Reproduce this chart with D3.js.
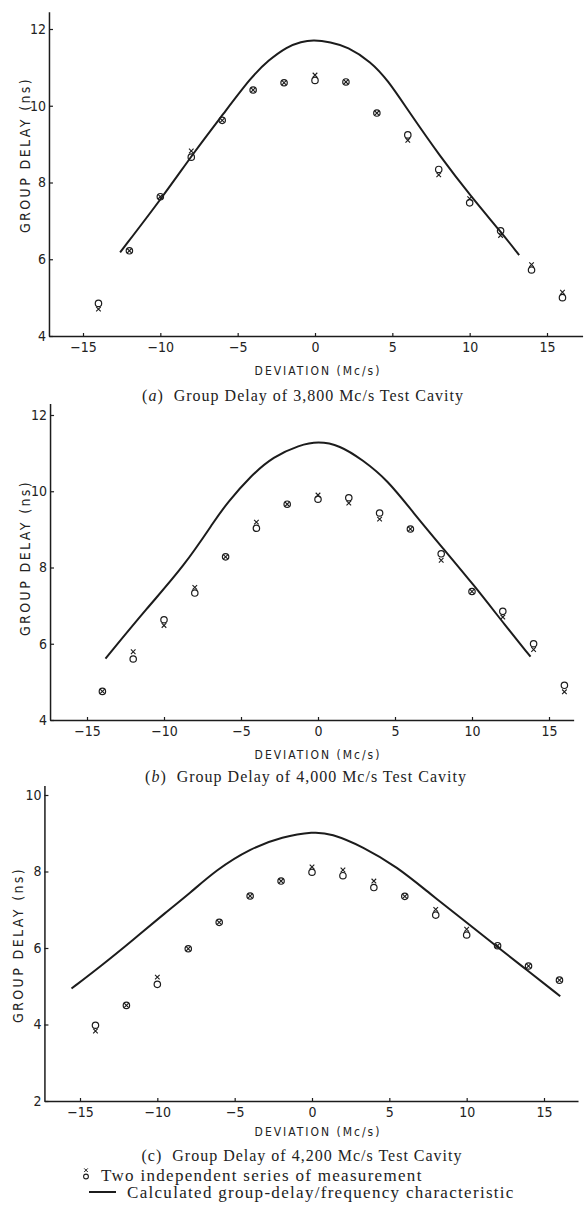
<!DOCTYPE html>
<html>
<head>
<meta charset="utf-8">
<script src="https://cdn.jsdelivr.net/npm/d3@7"></script>
<style>
  body { margin: 0; background: #fff; }
  svg { display: block; }
  .tick text { font-family: "Liberation Sans Narrow", "DejaVu Sans Condensed", sans-serif; font-size: 14px; fill: #222; }
  .axis-title { font-family: "DejaVu Sans Condensed", "DejaVu Sans", sans-serif; font-size: 12px; fill: #222; letter-spacing: 2px; }
  .caption { font-family: "Liberation Serif", serif; font-size: 16px; fill: #222; letter-spacing: 1px; }
  .legend { font-family: "Liberation Serif", serif; font-size: 17px; fill: #222; letter-spacing: 1.3px; }
</style>
</head>
<body>
<svg width="585" height="1213"></svg>
<script>
// measured deviations (Mc/s), same for all three cavities
const deviation = [-14, -12, -10, -8, -6, -4, -2, 0, 2, 4, 6, 8, 10, 12, 14, 16];
const xTicks = [-15, -10, -5, 0, 5, 10, 15];

// (a) 3,800 Mc/s
const crossA  = [4.70, 6.22, 7.63, 8.82, 9.62, 10.41, 10.60, 10.80, 10.62, 9.81, 9.10, 8.20, 7.58, 6.62, 5.86, 5.14];
const circleA = [4.85, 6.22, 7.63, 8.66, 9.62, 10.41, 10.60, 10.66, 10.62, 9.81, 9.24, 8.34, 7.47, 6.74, 5.72, 5.00];
const curveDevA   = [-12.6, -9.8, -7.8, -5.9, -4.1, -3.0, -1.8, -0.9, -0.1, 1.0, 2.1, 3.6, 4.7, 6.0, 8.1, 10.1, 12.0, 13.2];
const curveDelayA = [6.18, 7.65, 8.80, 9.80, 10.76, 11.19, 11.54, 11.67, 11.72, 11.66, 11.54, 11.15, 10.67, 9.89, 8.67, 7.63, 6.72, 6.11];
const yTicksA = [4, 6, 8, 10, 12];

// (b) 4,000 Mc/s
const crossB  = [4.75, 5.79, 6.48, 7.48, 8.28, 9.19, 9.66, 9.90, 9.69, 9.27, 9.01, 8.19, 7.37, 6.70, 5.85, 4.74];
const circleB = [4.75, 5.60, 6.63, 7.33, 8.28, 9.03, 9.66, 9.79, 9.83, 9.43, 9.01, 8.36, 7.37, 6.85, 6.00, 4.91];
const curveDevB   = [-13.8, -11.1, -8.7, -6.6, -5.9, -4.4, -2.9, -1.2, 0.0, 1.4, 2.9, 4.5, 6.2, 8.1, 10.1, 12.2, 13.8];
const curveDelayB = [5.61, 6.94, 8.03, 9.30, 9.69, 10.39, 10.91, 11.21, 11.31, 11.21, 10.82, 10.30, 9.43, 8.51, 7.55, 6.46, 5.66];
const yTicksB = [4, 6, 8, 10, 12];

// (c) 4,200 Mc/s
const crossC  = [3.83, 4.50, 5.24, 5.98, 6.67, 7.36, 7.75, 8.12, 8.04, 7.75, 7.35, 7.01, 6.49, 6.06, 5.53, 5.16];
const circleC = [3.98, 4.50, 5.05, 5.98, 6.67, 7.36, 7.75, 7.98, 7.89, 7.58, 7.35, 6.86, 6.34, 6.06, 5.53, 5.16];
const curveDevC   = [-15.55, -13.7, -11.6, -9.4, -7.9, -6.2, -4.0, -1.9, 0.1, 1.2, 3.3, 5.5, 7.6, 9.8, 11.7, 13.9, 16.05];
const curveDelayC = [4.94, 5.51, 6.20, 6.95, 7.43, 8.04, 8.60, 8.91, 9.04, 9.00, 8.65, 8.12, 7.43, 6.73, 6.12, 5.42, 4.74];
const yTicksC = [2, 4, 6, 8, 10];

const captions = [
  ["(", "a", ")  Group Delay of 3,800 Mc/s Test Cavity"],
  ["(", "b", ")  Group Delay of 4,000 Mc/s Test Cavity"],
  ["(", "c", ")  Group Delay of 4,200 Mc/s Test Cavity"]
];
const legendLabels = ["Two independent series of measurement", "Calculated group-delay/frequency characteristic"];

const svg = d3.select('svg');
const ink = '#1c1c1c';

const crossPath = 'M-2.3,-2.3L2.3,2.3M-2.3,2.3L2.3,-2.3';

function drawPanel(p) {
  // scales fixed by reading tick positions off the scan
  const x = d3.scaleLinear().domain([-15, 15]).range(p.xr);
  x.range([x(p.xext[0]), x(p.xext[1])]).domain(p.xext);
  const y = d3.scaleLinear().domain([p.yTicks[0], p.yTicks[p.yTicks.length - 1]]).range(p.yr);
  y.range([y(p.yTicks[0]), y(p.ytop)]).domain([p.yTicks[0], p.ytop]);

  const g = svg.append('g');

  g.append('g')
    .attr('transform', `translate(0,${y(p.yTicks[0])})`)
    .call(d3.axisBottom(x).tickValues(xTicks).tickSize(-3).tickSizeOuter(0).tickPadding(6).tickFormat(d3.format('d')));
  g.append('g')
    .attr('transform', `translate(${x(p.xext[0])},0)`)
    .call(d3.axisLeft(y).tickValues(p.yTicks).tickSize(-4).tickSizeOuter(0).tickPadding(3));
  g.selectAll('.domain').attr('stroke', ink).attr('stroke-width', 1.5);
  g.selectAll('.tick line').attr('stroke', ink).attr('stroke-width', 1.2);

  g.append('text')
    .attr('class', 'axis-title')
    .attr('x', p.xtitle[0]).attr('y', p.xtitle[1])
    .attr('text-anchor', 'middle').attr('dy', '0.35em')
    .text('DEVIATION (Mc/s)');

  g.append('text')
    .attr('class', 'axis-title')
    .attr('transform', `translate(${p.ytitle[0]},${p.ytitle[1]}) rotate(-90)`)
    .attr('text-anchor', 'middle').attr('dy', '0.35em')
    .style('font-size', '14px').style('letter-spacing', '2.4px')
    .text('GROUP DELAY (ns)');

  const cap = g.append('text')
    .attr('class', 'caption')
    .attr('x', p.caption[0]).attr('y', p.caption[1])
    .attr('text-anchor', 'middle').attr('dy', '0.35em')
    .attr('xml:space', 'preserve');
  const parts = captions[p.idx];
  cap.append('tspan').text(parts[0]);
  cap.append('tspan').style('font-style', p.idx < 2 ? 'italic' : 'normal').text(parts[1]);
  cap.append('tspan').text(parts[2]);

  const line = d3.line()
    .x(d => x(d[0]))
    .y(d => y(d[1]))
    .curve(d3.curveBasis);
  g.append('path')
    .datum(d3.zip(p.curveDev, p.curveDelay))
    .attr('fill', 'none')
    .attr('stroke', ink)
    .attr('stroke-width', 2)
    .attr('d', line);

  g.selectAll('circle.meas')
    .data(d3.zip(deviation, p.circles))
    .join('circle')
    .attr('class', 'meas')
    .attr('cx', d => x(d[0]))
    .attr('cy', d => y(d[1]))
    .attr('r', 3.2)
    .attr('fill', 'none')
    .attr('stroke', ink)
    .attr('stroke-width', 1.2);

  g.selectAll('path.cross')
    .data(d3.zip(deviation, p.crosses))
    .join('path')
    .attr('class', 'cross')
    .attr('transform', d => `translate(${x(d[0])},${y(d[1])})`)
    .attr('d', crossPath)
    .attr('fill', 'none')
    .attr('stroke', ink)
    .attr('stroke-width', 1.1);
}

drawPanel({
  idx: 0, xr: [83, 547], xext: [-17.2, 17.3], yr: [336, 29], ytop: 12.45, yTicks: yTicksA,
  xtitle: [318, 371], ytitle: [25, 155], caption: [303, 395],
  crosses: crossA, circles: circleA, curveDev: curveDevA, curveDelay: curveDelayA
});
drawPanel({
  idx: 1, xr: [87, 549], xext: [-17.4, 16.6], yr: [720, 415], ytop: 12.3, yTicks: yTicksB,
  xtitle: [318, 755], ytitle: [25, 558], caption: [306, 776],
  crosses: crossB, circles: circleB, curveDev: curveDevB, curveDelay: curveDelayB
});
drawPanel({
  idx: 2, xr: [80, 544], xext: [-17.3, 17.2], yr: [1101, 795], ytop: 10.25, yTicks: yTicksC,
  xtitle: [318, 1132], ytitle: [18, 945], caption: [302, 1155],
  crosses: crossC, circles: circleC, curveDev: curveDevC, curveDelay: curveDelayC
});

// legend under panel (c)
const lg = svg.append('g').attr('transform', 'translate(86,1175)');
lg.append('path').attr('d', 'M-1.8,-6.6L1.8,-3M-1.8,-3L1.8,-6.6')
  .attr('fill', 'none').attr('stroke', ink).attr('stroke-width', 1);
lg.append('circle').attr('cy', 1.5).attr('r', 2.4)
  .attr('fill', 'none').attr('stroke', ink).attr('stroke-width', 1.1);
lg.append('text').attr('class', 'legend').attr('x', 15).attr('dy', '0.35em').text(legendLabels[0]);
lg.append('line').attr('x1', 3).attr('x2', 30).attr('y1', 17).attr('y2', 17)
  .attr('stroke', ink).attr('stroke-width', 2);
lg.append('text').attr('class', 'legend').attr('x', 41).attr('y', 17).attr('dy', '0.35em').text(legendLabels[1]);
</script>
</body>
</html>
